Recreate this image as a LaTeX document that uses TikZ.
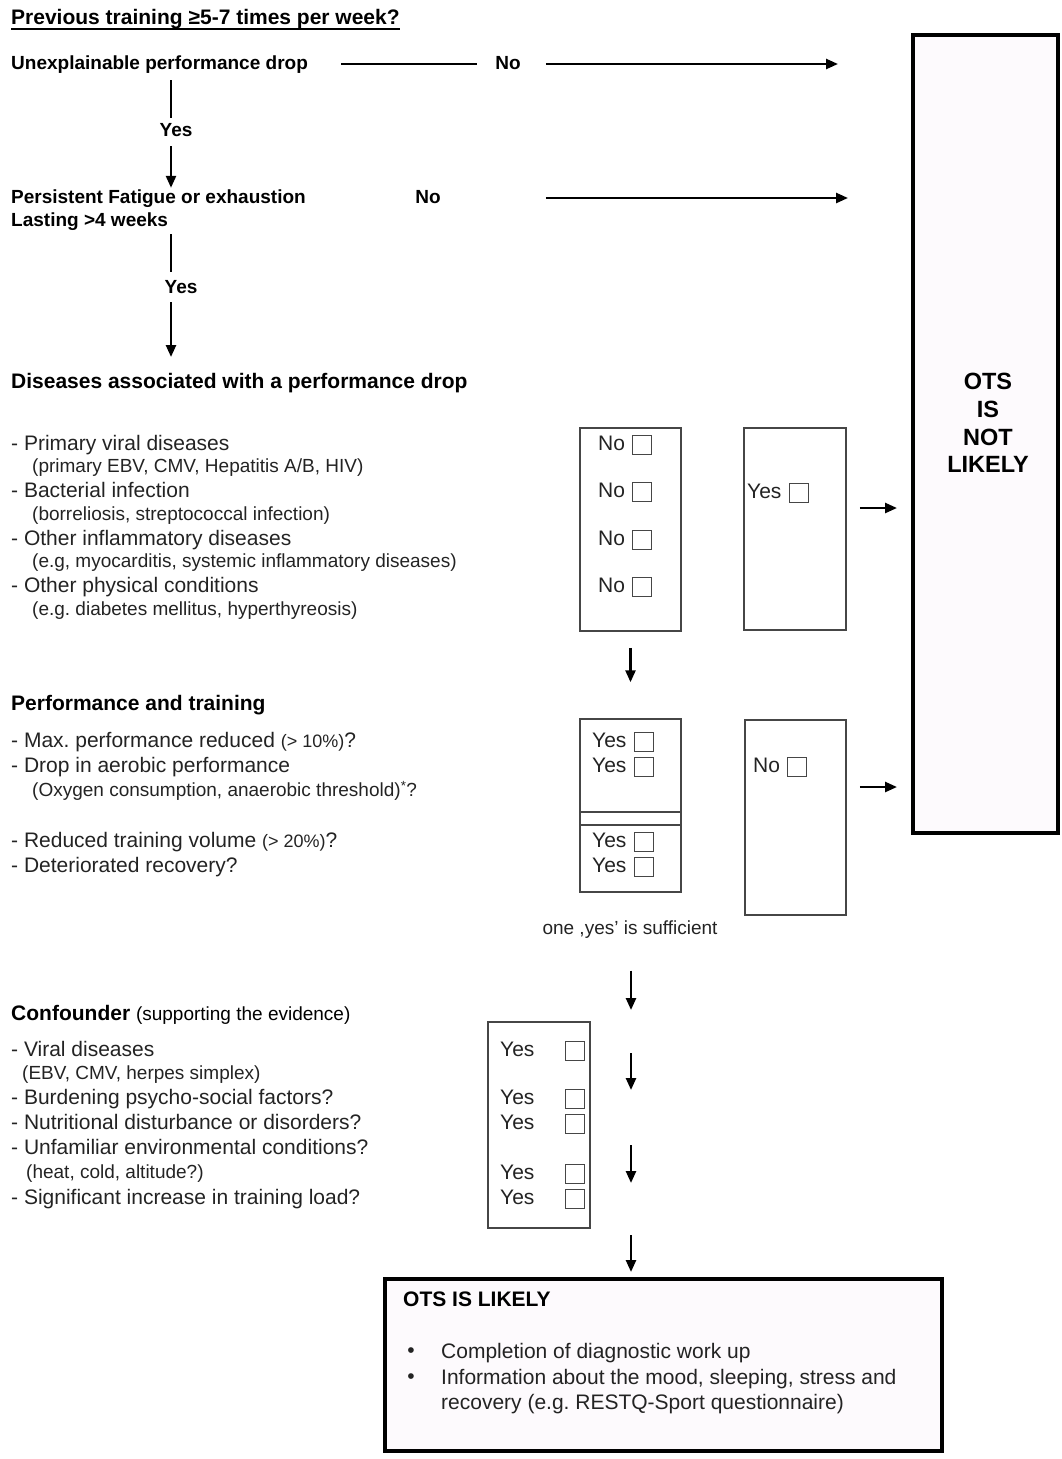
\documentclass[tikz,border=0pt]{standalone}
\usepackage{fontspec}
\setmainfont{Liberation Sans}
\usetikzlibrary{arrows.meta,positioning}
\definecolor{inkgray}{RGB}{35,35,35}
\definecolor{boxgray}{RGB}{70,70,70}
\definecolor{pinkbg}{RGB}{253,250,253}
\frenchspacing

\begin{document}
\begin{tikzpicture}[x=1pt,y=-1pt,
    head/.style={anchor=west,inner sep=0,text height=14pt,text depth=4pt,font=\fontsize{19}{23}\selectfont\bfseries},
    bighead/.style={head,font=\fontsize{21}{25}\selectfont\bfseries},
    item/.style={anchor=west,inner sep=0,text height=15pt,text depth=4.5pt,text=inkgray,font=\fontsize{21}{25}\selectfont},
    sub/.style={anchor=west,inner sep=0,text height=13pt,text depth=4pt,text=inkgray,font=\fontsize{19}{22}\selectfont},
    chk/.style={draw=boxgray,line width=1.2pt,minimum size=19pt,inner sep=0},
    frame/.style={draw=boxgray,line width=1.5pt,inner sep=0},
    bigframe/.style={draw=black,line width=4pt,fill=pinkbg,inner sep=0},
    stem/.style={line width=2.5pt},
    arr/.style={line width=2.5pt,-{Triangle[length=12pt,width=10pt]}}]
  \useasboundingbox (0,0) rectangle (1062,1459);

  % result boxes
  \node[bigframe,minimum width=145pt,minimum height=798pt] (notlikely) at (985.5,434) {};
  \node[align=center,font=\fontsize{23.5}{27.7}\selectfont\bfseries] (notlikelytxt) at (988,423) {OTS\\IS\\NOT\\LIKELY};
  \node[bigframe,minimum width=557pt,minimum height=172pt] (likely) at (663.5,1365) {};
  \node[bighead] (likelyhead) at (403,1301) {OTS IS LIKELY};
  \node[item] (todo1) at (441,1353) {Completion of diagnostic work up};
  \node[item] (todo2) at (441,1379) {Information about the mood, sleeping, stress and};
  \node[item] (todo3) at (441,1404) {recovery (e.g. RESTQ-Sport questionnaire)};
  \node[item,anchor=center] (dot1) at (411,1352) {\textbullet};
  \node[item,anchor=center] (dot2) at (411,1378) {\textbullet};

  % screening questions
  \node[bighead] (prev) at (11,19.5) {Previous training ≥5-7 times per week?};
  \draw[line width=1.8pt] (prev.south west) -- (prev.south east);
  \node[head] (drop) at (11,64) {Unexplainable performance drop};
  \node[head,anchor=center] (no1) at (508,64) {No};
  \node[head,anchor=center] (yes1) at (176,131) {Yes};
  \node[head] (fatigue) at (11,198) {Persistent Fatigue or exhaustion};
  \node[head] (lasting) at (11,221) {Lasting >4 weeks};
  \node[head,anchor=center] (no2) at (428,198) {No};
  \node[head,anchor=center] (yes2) at (181,288) {Yes};
  \coordinate (tip1) at (838,64);
  \coordinate (tip2) at (848,198);
  \coordinate (v1) at (171,80);
  \coordinate (v2) at (171,234);

  \draw[stem,shorten <=33pt,shorten >=18pt] (drop.east) -- (no1.west);
  \draw[arr,shorten <=25pt] (no1.east) -- (tip1);
  \draw[arr,shorten <=105pt] (no2.east) -- (tip2);
  \draw[stem,shorten >=4pt] (v1) -- (v1 |- yes1.north);
  \draw[arr,shorten <=6pt,shorten >=1pt] (v1 |- yes1.south) -- (v1 |- fatigue.north);
  \draw[stem,shorten >=7pt] (v2) -- (v2 |- yes2.north);
  \draw[arr,shorten <=5pt,shorten >=17pt] (v2 |- yes2.south) -- (v2 |- 0,374);

  % diseases
  \node[bighead] (dis) at (11,383) {Diseases associated with a performance drop};
  \node[item] (dis1) at (11,445) {- Primary viral diseases};
  \node[sub] (dis1s) at (32,468) {(primary EBV, CMV, Hepatitis A/B, HIV)};
  \node[item] (dis2) at (11,492) {- Bacterial infection};
  \node[sub] (dis2s) at (32,516) {(borreliosis, streptococcal infection)};
  \node[item] (dis3) at (11,540) {- Other inflammatory diseases};
  \node[sub] (dis3s) at (32,563) {(e.g, myocarditis, systemic inflammatory diseases)};
  \node[item] (dis4) at (11,587) {- Other physical conditions};
  \node[sub] (dis4s) at (32,611) {(e.g. diabetes mellitus, hyperthyreosis)};

  \node[frame,minimum width=101pt,minimum height=203pt] (disno) at (630.5,529.5) {};
  \node[item] (dn1) at (598,445) {No};
  \node[chk,right=7pt of dn1] (dn1b) {};
  \node[item] (dn2) at (598,492) {No};
  \node[chk,right=7pt of dn2] (dn2b) {};
  \node[item] (dn3) at (598,540) {No};
  \node[chk,right=7pt of dn3] (dn3b) {};
  \node[item] (dn4) at (598,587) {No};
  \node[chk,right=7pt of dn4] (dn4b) {};
  \node[frame,minimum width=102pt,minimum height=202pt] (disyes) at (795,529) {};
  \node[item] (dy1) at (747,493) {Yes};
  \node[chk,right=7pt of dy1] (dy1b) {};
  \coordinate (tip3) at (897,508);
  \draw[arr,shorten <=13pt] (disyes.east |- tip3) -- (tip3);

  % performance and training
  \node[bighead] (perf) at (11,705) {Performance and training};
  \node[item] (perf1) at (11,742) {- Max. performance reduced {\fontsize{18}{21}\selectfont(> 10\%)}?};
  \node[item] (perf2) at (11,767) {- Drop in aerobic performance};
  \node[sub] (perf2s) at (32,792) {(Oxygen consumption, anaerobic threshold)\textsuperscript{*}?};
  \node[item] (perf3) at (11,842) {- Reduced training volume {\fontsize{18}{21}\selectfont(> 20\%)}?};
  \node[item] (perf4) at (11,867) {- Deteriorated recovery?};

  \node[frame,minimum width=101pt,minimum height=173pt] (perfyes) at (630.5,805.5) {};
  \draw[boxgray,line width=1.5pt] (perfyes.west |- 0,812) -- (perfyes.east |- 0,812)
    (perfyes.west |- 0,825) -- (perfyes.east |- 0,825);
  \node[item] (py1) at (592,742) {Yes};
  \node[chk,right=7pt of py1] (py1b) {};
  \node[item] (py2) at (592,767) {Yes};
  \node[chk,right=7pt of py2] (py2b) {};
  \node[item] (py3) at (592,842) {Yes};
  \node[chk,right=7pt of py3] (py3b) {};
  \node[item] (py4) at (592,867) {Yes};
  \node[chk,right=7pt of py4] (py4b) {};
  \node[frame,minimum width=101pt,minimum height=195pt] (perfno) at (795.5,817.5) {};
  \node[item] (pn1) at (753,767) {No};
  \node[chk,right=7pt of pn1] (pn1b) {};
  \coordinate (tip4) at (897,787);
  \draw[arr,shorten <=13pt] (perfno.east |- tip4) -- (tip4);
  \node[sub,anchor=center] (one) at (630,930) {one ,yes' is sufficient};

  % confounder
  \node[bighead] (conf) at (11,1015) {Confounder {\mdseries\fontsize{19}{22}\selectfont(supporting the evidence)}};
  \node[item] (conf1) at (11,1051) {- Viral diseases};
  \node[sub] (conf1s) at (22,1075) {(EBV, CMV, herpes simplex)};
  \node[item] (conf2) at (11,1099) {- Burdening psycho-social factors?};
  \node[item] (conf3) at (11,1124) {- Nutritional disturbance or disorders?};
  \node[item] (conf4) at (11,1149) {- Unfamiliar environmental conditions?};
  \node[sub] (conf4s) at (26,1174) {(heat, cold, altitude?)};
  \node[item] (conf5) at (11,1199) {- Significant increase in training load?};

  \node[frame,minimum width=102pt,minimum height=206pt] (confyes) at (539,1125) {};
  \node[item] (cy1) at (500,1051) {Yes};
  \node[chk,right=30pt of cy1] (cy1b) {};
  \node[item] (cy2) at (500,1099) {Yes};
  \node[chk,right=30pt of cy2] (cy2b) {};
  \node[item] (cy3) at (500,1124) {Yes};
  \node[chk,right=30pt of cy3] (cy3b) {};
  \node[item] (cy4) at (500,1174) {Yes};
  \node[chk,right=30pt of cy4] (cy4b) {};
  \node[item] (cy5) at (500,1199) {Yes};
  \node[chk,right=30pt of cy5] (cy5b) {};

  % downward flow
  \coordinate (c1) at (631,1010);
  \coordinate (c2) at (631,1053);
  \coordinate (c3) at (631,1090);
  \coordinate (c4) at (631,1145);
  \coordinate (c5) at (631,1183);
  \coordinate (c6) at (631,1235);
  \path[arr] (disno) edge[shorten <=16pt,shorten >=36pt] (perfyes)
    (one.south -| c1) edge[shorten <=32pt] (c1)
    (c2) edge (c3)
    (c4) edge (c5)
    (c6) edge[shorten >=5pt] (likely.north -| c6);
\end{tikzpicture}
\end{document}
